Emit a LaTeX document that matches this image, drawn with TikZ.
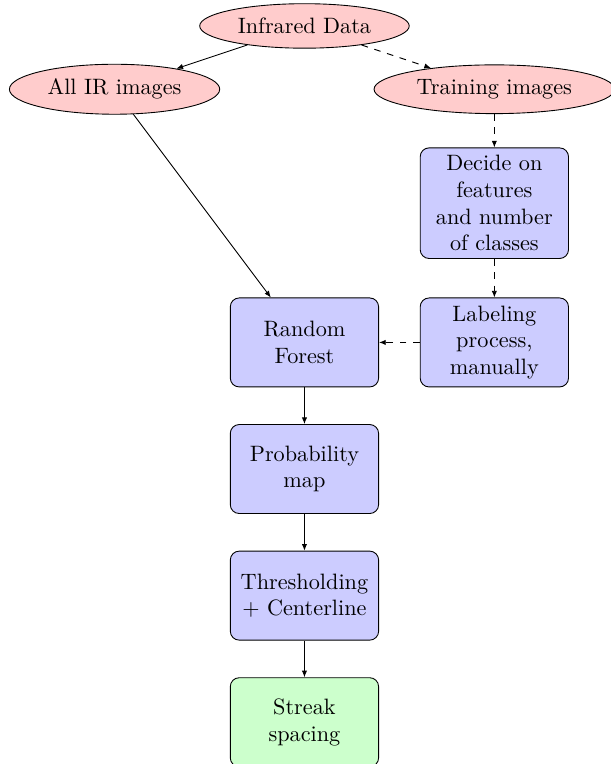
\documentclass[tikz,border=0pt]{standalone}
\usepackage{tikz}
\usetikzlibrary{arrows.meta,positioning,shapes.geometric}

\begin{document}
\begin{tikzpicture}[
  cloud/.style={draw, ellipse, fill=red!20, minimum height=2em},
  block/.style={draw, rectangle, rounded corners, fill=blue!20, text width=6em, align=center, minimum height=4em},
  result/.style={block, fill=green!20},
  arrow/.style={-{Latex[length=3pt,width=2.4pt]}},
  dasharrow/.style={arrow, dashed}
]
\useasboundingbox (-4.81,5.41) rectangle (4.84,-6.66);
\node[cloud] (data) at (0,5) {Infrared Data};
\node[cloud] (allir) at (-3,4) {All IR images};
\node[cloud] (train) at (3,4) {Training images};
\node[block] (decide) at (3,2.2) {Decide on\\features\\and number\\of classes};
\node[block] (label) at (3,0) {Labeling\\process,\\manually};
\node[block] (forest) at (0,0) {Random\\Forest};
\node[block] (prob) at (0,-2) {Probability\\map};
\node[block] (thresh) at (0,-4) {Thresholding\\+ Centerline};
\node[result] (streak) at (0,-6) {Streak\\spacing};
\foreach \a/\b in {data/allir,allir/forest,forest/prob,prob/thresh,thresh/streak}
  \draw[arrow] (\a) -- (\b);
\foreach \a/\b in {data/train,train/decide,decide/label,label/forest}
  \draw[dasharrow] (\a) -- (\b);
\end{tikzpicture}
\end{document}
